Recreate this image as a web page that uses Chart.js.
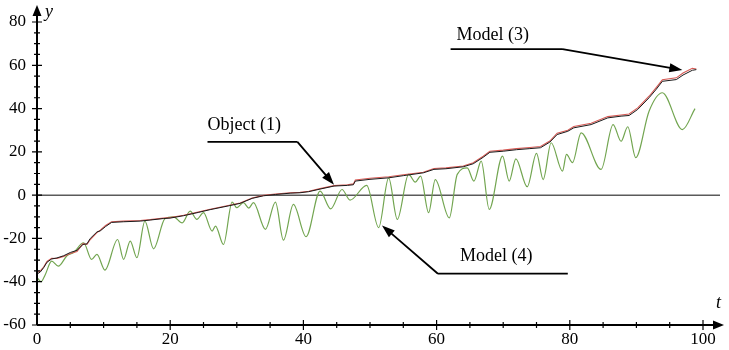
<!DOCTYPE html>
<html>
<head>
<meta charset="utf-8">
<script src="https://cdn.jsdelivr.net/npm/chart.js@4"></script>
<style>
  html, body { margin: 0; padding: 0; background: #fff; }
  #wrap { width: 729px; height: 350px; }
</style>
</head>
<body>
<div id="wrap"><canvas id="chart"></canvas></div>
<script>
// Object (1)
const object_t = [0, 0.5, 1, 1.5, 2.2, 3, 4, 5, 6, 6.9, 7.5, 8, 9, 9.5, 10.3, 11.2, 13, 15.5, 17, 19, 20, 22, 24.2, 26, 28.7, 30.5, 32.3, 34, 35.8, 38, 39.5, 40.8, 42.5, 44.6, 46.6, 47.5, 47.8, 50, 52.8, 55, 58, 59.6, 61.4, 64, 65.5, 67, 68, 70, 72, 74, 75.6, 77, 78.1, 79.7, 80.6, 83.2, 85.7, 87.7, 88.9, 90.2, 91.9, 93, 93.9, 96, 97, 98.4, 99];
const object_v = [-36.5, -35.5, -33.5, -31, -29.5, -29, -28, -26.5, -25.5, -22.8, -22.5, -20, -17, -16.5, -14.5, -12.6, -12.3, -12, -11.5, -10.8, -10.6, -9.5, -8, -6.7, -5, -3.8, -1.5, -0.3, 0.3, 0.9, 1.1, 1.6, 2.8, 4.2, 4.5, 4.8, 6.5, 7.3, 8, 9, 10.3, 11.9, 12.2, 13.1, 14.5, 17.5, 19.8, 20.3, 21, 21.5, 21.9, 24.5, 28, 29.5, 31.1, 32.6, 35.7, 36.5, 36.8, 39.6, 45, 49, 52.6, 53.4, 55.5, 57.7, 58];
// Model (3)
const model3_v = [-35.8, -35, -33.2, -30.6, -29.2, -29.3, -28.3, -27, -26, -22.4, -22.8, -20.5, -17.3, -16.2, -14, -12.3, -12, -11.7, -11.3, -10.6, -10.4, -9.3, -7.8, -6.5, -4.8, -3.6, -1.3, -0.1, 0.5, 1.1, 1.3, 1.8, 3, 4.4, 4.8, 5.2, 7, 7.8, 8.5, 9.4, 10.6, 12.3, 12.6, 13.5, 15, 18, 20.3, 20.8, 21.5, 22, 22.5, 25, 28.6, 30, 31.7, 33.2, 36.3, 37, 37.5, 40.3, 45.7, 49.8, 53.3, 54.2, 56.4, 58.6, 58.3];
// Model (4)
const model4_t = [0, 0.6, 1.2, 2.2, 3.2, 4.5, 5.5, 7, 8.2, 9, 10.2, 12.1, 13, 14, 15, 16.2, 17.5, 19.2, 20.5, 21.8, 23, 24, 25, 26.3, 26.8, 28, 29.3, 30, 31, 31.8, 32.5, 34.3, 35.8, 37, 38.5, 40.4, 42.5, 44.1, 45.8, 47, 49.5, 51.3, 52.8, 54.1, 55.8, 56.8, 57.6, 58.8, 59.8, 61.9, 63.1, 64.6, 65.6, 66.7, 67.9, 69.9, 70.9, 71.9, 73.6, 75, 76, 77.2, 78.9, 79.5, 80.4, 81.7, 84.7, 86.5, 87.7, 88.7, 89.9, 91.9, 93.9, 96.9, 98.8];
const model4_v = [-38, -40, -37, -30.5, -32.8, -28, -26.5, -22, -29.7, -27.4, -34.6, -20.5, -29.7, -21.2, -28.9, -12, -24.8, -10.9, -10, -12.8, -7.4, -11.2, -8.1, -16.6, -14.3, -22.8, -3.2, -5.8, -3.5, -6, -3.5, -15.8, -3.2, -20.8, -4.3, -19.2, 1.9, -6.3, 2.6, -2.3, 4.5, -15, 8, -11.2, 9.6, 6, 8.8, -8.1, 7.2, -10.5, 9.6, 12.6, 6.5, 15.7, -6.6, 18, 6.5, 16.8, 3.9, 19.3, 7.2, 24.2, 11.1, 18.8, 15, 28.8, 11.9, 32.6, 24.9, 31.6, 17.3, 38.8, 47.3, 30.3, 40];

const x_ticks_step = 20;
const y_ticks_step = 20;

function pts(ts, vs) {
  return ts.map((t, i) => ({ x: t, y: vs[i] }));
}

// callouts, in data units: text anchor, underline, arrow tip
const callouts = [
  { text: 'Object (1)', text_at: [25.6, 29.9], line_from: [25.6, 24.6], line_to: [39.1, 24.6], tip: [44.6, 4.8], tip_from: 'end' },
  { text: 'Model (3)', text_at: [63.0, 71.7], line_from: [62.1, 67.5], line_to: [78.9, 67.5], tip: [96.9, 57.8], tip_from: 'end' },
  { text: 'Model (4)', text_at: [63.5, -30.6], line_from: [60.2, -36.3], line_to: [79.7, -36.3], tip: [51.8, -14.0], tip_from: 'start' },
];

const serif = '"Liberation Serif", "Times New Roman", serif';

function arrowHead(ctx, fx, fy, tx, ty, len, half) {
  const a = Math.atan2(ty - fy, tx - fx);
  ctx.beginPath();
  ctx.moveTo(tx, ty);
  ctx.lineTo(tx - len * Math.cos(a) + half * Math.sin(a), ty - len * Math.sin(a) - half * Math.cos(a));
  ctx.lineTo(tx - len * Math.cos(a) - half * Math.sin(a), ty - len * Math.sin(a) + half * Math.cos(a));
  ctx.closePath();
  ctx.fill();
}

const zeroLine = {
  id: 'zeroLine',
  beforeDatasetsDraw(chart) {
    const { ctx, scales: { x, y } } = chart;
    const py = y.getPixelForValue(0);
    ctx.save();
    ctx.strokeStyle = '#5a5a5a';
    ctx.lineWidth = 1.5;
    ctx.beginPath();
    ctx.moveTo(x.getPixelForValue(0), py);
    ctx.lineTo(x.right + 17, py);
    ctx.stroke();
    ctx.restore();
  },
};

const axesAndNotes = {
  id: 'axesAndNotes',
  afterDatasetsDraw(chart) {
    const { ctx, scales: { x, y } } = chart;
    const x0 = x.getPixelForValue(0);
    const yb = y.getPixelForValue(-60);
    ctx.save();
    ctx.strokeStyle = '#000';
    ctx.fillStyle = '#000';
    ctx.lineWidth = 2;

    // axis lines with arrows
    ctx.beginPath();
    ctx.moveTo(x0, yb);
    ctx.lineTo(x0, y.top - 10);
    ctx.moveTo(x0, yb);
    ctx.lineTo(x.right + 12, yb);
    ctx.stroke();
    arrowHead(ctx, x0, yb, x0, y.top - 17, 11, 4.5);
    arrowHead(ctx, x0, yb, x.right + 21, yb, 11, 4.5);

    // ticks every 5 units
    ctx.lineWidth = 1.2;
    ctx.beginPath();
    for (let v = -60; v <= 80; v += 5) {
      const py = y.getPixelForValue(v);
      const l = v % y_ticks_step === 0 ? 5 : 3;
      ctx.moveTo(x0 - l, py);
      ctx.lineTo(x0 + l, py);
    }
    for (let t = 5; t <= 100; t += 5) {
      const px = x.getPixelForValue(t);
      const l = t % x_ticks_step === 0 ? 5 : 3;
      ctx.moveTo(px, yb - l);
      ctx.lineTo(px, yb + l);
    }
    ctx.stroke();

    // axis names
    ctx.font = 'italic 18px ' + serif;
    ctx.textAlign = 'left';
    ctx.textBaseline = 'alphabetic';
    ctx.fillText('y', x0 + 8, y.top - 5);
    ctx.fillText('t', x.right + 13, yb - 17);

    // callouts
    ctx.font = '18px ' + serif;
    ctx.lineWidth = 1.8;
    callouts.forEach(c => {
      const tx = x.getPixelForValue(c.text_at[0]);
      const ty = y.getPixelForValue(c.text_at[1]);
      ctx.fillText(c.text, tx, ty);
      const ax = x.getPixelForValue(c.line_from[0]);
      const ay = y.getPixelForValue(c.line_from[1]);
      const bx = x.getPixelForValue(c.line_to[0]);
      const by = y.getPixelForValue(c.line_to[1]);
      const px = x.getPixelForValue(c.tip[0]);
      const py = y.getPixelForValue(c.tip[1]);
      const sx = c.tip_from === 'end' ? bx : ax;
      const sy = c.tip_from === 'end' ? by : ay;
      ctx.beginPath();
      ctx.moveTo(ax, ay);
      ctx.lineTo(bx, by);
      ctx.moveTo(sx, sy);
      const a = Math.atan2(py - sy, px - sx);
      ctx.lineTo(px - 8 * Math.cos(a), py - 8 * Math.sin(a));
      ctx.stroke();
      arrowHead(ctx, sx, sy, px, py, 13, 4.5);
    });
    ctx.restore();
  },
};

new Chart(document.getElementById('chart'), {
  type: 'line',
  data: {
    datasets: [
      {
        label: 'Object (1)',
        data: pts(object_t, object_v),
        borderColor: '#1a1a1a',
        borderWidth: 1,
        pointRadius: 0,
        tension: 0,
        order: 0,
      },
      {
        label: 'Model (3)',
        data: pts(object_t, model3_v),
        borderColor: '#d65a55',
        borderWidth: 1.1,
        pointRadius: 0,
        tension: 0,
        order: 1,
      },
      {
        label: 'Model (4)',
        data: pts(model4_t, model4_v),
        borderColor: '#72a550',
        borderWidth: 1.2,
        pointRadius: 0,
        cubicInterpolationMode: 'monotone',
        order: 2,
      },
    ],
  },
  options: {
    responsive: true,
    maintainAspectRatio: false,
    animation: false,
    layout: { padding: { left: 0, top: 22, right: 26, bottom: 0 } },
    plugins: {
      legend: { display: false },
      tooltip: { enabled: false },
    },
    scales: {
      x: {
        type: 'linear',
        min: 0,
        max: 100,
        grid: { display: false, drawTicks: false },
        border: { display: false },
        ticks: {
          stepSize: x_ticks_step,
          color: '#000',
          padding: 4,
          maxRotation: 0,
          font: { family: serif, size: 17 },
        },
        afterFit(scale) { scale.height = 25; },
      },
      y: {
        min: -60,
        max: 80,
        grid: { display: false, drawTicks: false },
        border: { display: false },
        ticks: {
          stepSize: y_ticks_step,
          color: '#000',
          padding: 11,
          font: { family: serif, size: 17 },
        },
        afterFit(scale) { scale.width = 37; },
      },
    },
  },
  plugins: [zeroLine, axesAndNotes],
});
</script>
</body>
</html>
